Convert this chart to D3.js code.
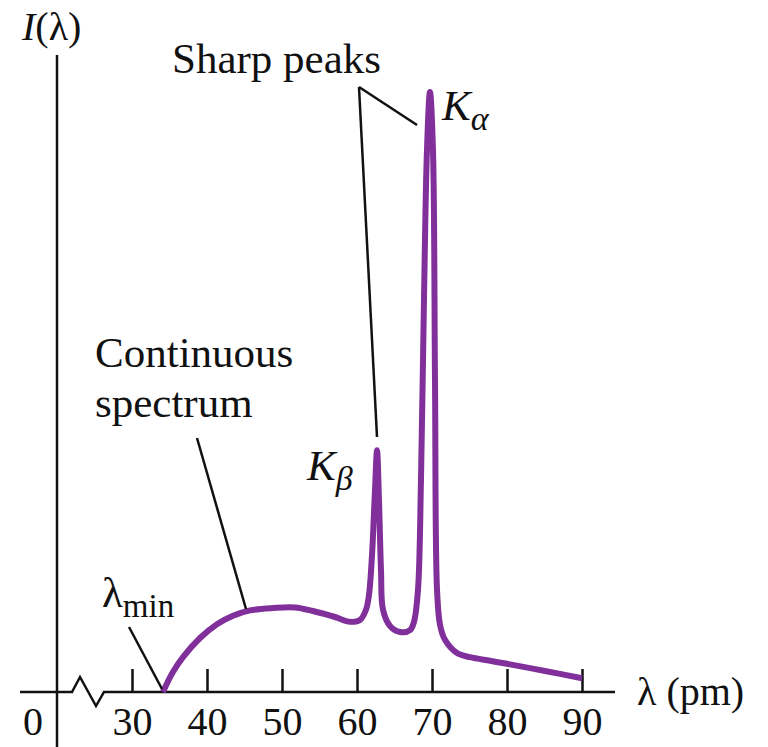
<!DOCTYPE html>
<html>
<head>
<meta charset="utf-8">
<script src="https://cdn.jsdelivr.net/npm/d3@7"></script>
<style>
  body { margin: 0; background: #fff; }
  svg text { font-family: "Liberation Serif", "Times New Roman", serif; fill: #111; }
</style>
</head>
<body>
<div id="chart"></div>
<script>
// spectrum: wavelength (pm) and intensity (arbitrary units)
var lambda = [34.13, 35.4, 36.8, 39.07, 41.33, 43.47, 45.73, 48.8, 51.73, 54.13, 57.07, 59.07,
  60.4, 61.2, 61.6, 62.0, 62.4, 62.67, 62.93, 63.2, 63.47, 64.4, 65.73, 67.07, 67.6,
  68.13, 68.53, 68.93, 69.33, 69.73, 70.13, 70.4, 70.67, 71.07, 71.73, 73.33, 75.07,
  77.73, 80, 85.07, 90];
var intensity = [0, 0.32, 0.58, 0.90, 1.13, 1.27, 1.36, 1.40, 1.41, 1.35, 1.25, 1.17,
  1.20, 1.37, 1.62, 2.28, 3.37, 4.03, 3.2, 2.03, 1.37, 1.1, 1.0, 1.03, 1.17,
  1.7, 3.53, 6.53, 9.03, 10.0, 9.03, 5.2, 1.7, 1.12, 0.87, 0.65, 0.58,
  0.52, 0.47, 0.35, 0.23];
var xTicks = [30, 40, 50, 60, 70, 80, 90];

var w = 768, h = 747;
var curveCOLOR = "#81309b";

var svg = d3.select("#chart").append("svg").attr("width", w).attr("height", h);

var x = d3.scaleLinear().domain([30, 90]).range([132, 582]);
var y = d3.scaleLinear().domain([0, 10]).range([692, 92]);

//x axis: ticks pointing up, labels below, own domain line with the break
var xAxis = d3.axisBottom(x).tickValues(xTicks).tickSizeInner(-23).tickSizeOuter(0).tickPadding(15);
var gx = svg.append("g").attr("transform", "translate(0," + y(0) + ")").call(xAxis);
gx.select(".domain").remove();
gx.selectAll(".tick line").attr("stroke", "#111").attr("stroke-width", 2.5);
gx.selectAll(".tick text").attr("font-size", 40).attr("fill", "#111")
  .style("font-family", "'Liberation Serif', serif");

var y0 = y(0);
svg.append("path")
  .attr("d", "M20," + y0 + "L72," + y0 + "L80," + (y0 - 15) + "L96," + (y0 + 14) + "L104," + y0 + "L615," + y0)
  .attr("fill", "none").attr("stroke", "#111").attr("stroke-width", 2.5).attr("stroke-linejoin", "miter");

//y axis
svg.append("line").attr("x1", 57).attr("x2", 57).attr("y1", 55).attr("y2", h)
  .attr("stroke", "#111").attr("stroke-width", 2.5);

svg.append("text").attr("x", 33).attr("y", 735).attr("text-anchor", "middle").attr("font-size", 40).text("0");

//spectrum
var pts = lambda.map(function(d, i) { return [d, intensity[i]]; });
var line = d3.line().x(function(d) { return x(d[0]); }).y(function(d) { return y(d[1]); })
  .curve(d3.curveCatmullRom.alpha(0.5));
svg.append("path").datum(pts).attr("d", line)
  .attr("fill", "none").attr("stroke", curveCOLOR).attr("stroke-width", 6).attr("stroke-linejoin", "round");

//pointer lines
var pointers = [
  [[359, 87], [417, 125]],
  [[359, 87], [377, 437]],
  [[197, 438], [246, 609]],
  [[129, 627], [162, 689]]
];
pointers.forEach(function(p) {
  svg.append("line").attr("x1", p[0][0]).attr("y1", p[0][1]).attr("x2", p[1][0]).attr("y2", p[1][1])
    .attr("stroke", "#111").attr("stroke-width", 2.5);
});

//labels
svg.append("text").attr("x", 172).attr("y", 73).attr("font-size", 43).text("Sharp peaks");
svg.append("text").attr("x", 95).attr("y", 367).attr("font-size", 43).text("Continuous");
svg.append("text").attr("x", 95).attr("y", 417).attr("font-size", 43).text("spectrum");

var lm = svg.append("text").attr("x", 102).attr("y", 607).attr("font-size", 43);
lm.append("tspan").text("λ");
lm.append("tspan").attr("font-size", 33).attr("dy", 10).text("min");

var ka = svg.append("text").attr("x", 442).attr("y", 120).attr("font-size", 43).attr("font-style", "italic");
ka.append("tspan").text("K");
ka.append("tspan").attr("font-size", 34).attr("dy", 10).text("α");

var kb = svg.append("text").attr("x", 307).attr("y", 480).attr("font-size", 43).attr("font-style", "italic");
kb.append("tspan").text("K");
kb.append("tspan").attr("font-size", 34).attr("dy", 10).text("β");

var il = svg.append("text").attr("x", 22).attr("y", 40).attr("font-size", 40);
il.append("tspan").attr("font-style", "italic").text("I");
il.append("tspan").text("(λ)");

svg.append("text").attr("x", 637).attr("y", 705).attr("font-size", 40).text("λ (pm)");
</script>
</body>
</html>
